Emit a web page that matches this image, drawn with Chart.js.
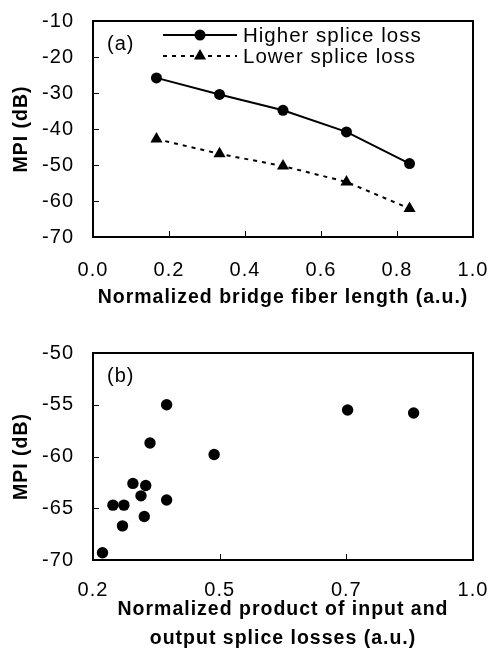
<!DOCTYPE html>
<html>
<head>
<meta charset="utf-8">
<script src="https://cdn.jsdelivr.net/npm/chart.js@4.4.1/dist/chart.umd.min.js"></script>
<style>
html, body { margin: 0; padding: 0; background: #fff; }
#wrap { position: relative; width: 488px; height: 653px; }
canvas { position: absolute; left: 0; }
</style>
</head>
<body>
<div id="wrap">
  <canvas id="chartA" width="488" height="320" style="top:0"></canvas>
  <canvas id="chartB" width="488" height="333" style="top:320px"></canvas>
</div>
<script>
// (a) MPI vs bridge fiber length
const lengthX = [0.167, 0.333, 0.5, 0.667, 0.833];
const higherLoss = [-25.8, -30.4, -34.8, -40.8, -49.6];
const lowerLoss = [-42.8, -46.9, -50.3, -54.7, -62.1];
const lengthTicks = [0, 0.2, 0.4, 0.6, 0.8, 1.0];
const mpiTicksA = [-70, -60, -50, -40, -30, -20, -10];

// (b) MPI vs product of splice losses
const productX = [0.220, 0.242, 0.265, 0.262, 0.284, 0.301, 0.311, 0.308, 0.320, 0.355, 0.355, 0.455, 0.736, 0.875];
const productMPI = [-69.3, -64.7, -64.7, -66.7, -62.6, -63.8, -62.8, -65.8, -58.7, -55.0, -64.2, -59.8, -55.5, -55.8];
const productTicks = [0.2, 0.4667, 0.7333, 1.0];
const mpiTicksB = [-70, -65, -60, -55, -50];

const FONT = '"Liberation Sans", Arial, sans-serif';
const black = '#000';

function pts(xs, ys) {
    return xs.map((x, i) => ({ x: x, y: ys[i] }));
}

// the original text is a bit loosely spaced
const spacingPlugin = {
    id: 'spacing',
    beforeUpdate(chart) { chart.ctx.letterSpacing = '1px'; },
    beforeDraw(chart) { chart.ctx.letterSpacing = '1px'; }
};

// box around plot area plus short inward tick marks
const framePlugin = {
    id: 'frame',
    afterDraw(chart) {
        const ctx = chart.ctx;
        const a = chart.chartArea;
        const xs = chart.scales.x, ys = chart.scales.y;
        ctx.save();
        ctx.strokeStyle = black;
        ctx.lineWidth = 1;
        xs.ticks.forEach((t, i) => {
            if (i === 0 || i === xs.ticks.length - 1) return;
            const px = Math.round(xs.getPixelForValue(t.value)) + 0.5;
            ctx.beginPath();
            ctx.moveTo(px, a.bottom);
            ctx.lineTo(px, a.bottom - 6);
            ctx.stroke();
        });
        ys.ticks.forEach((t, i) => {
            if (i === 0 || i === ys.ticks.length - 1) return;
            const py = Math.round(ys.getPixelForValue(t.value)) + 0.5;
            ctx.beginPath();
            ctx.moveTo(a.left, py);
            ctx.lineTo(a.left + 6, py);
            ctx.stroke();
        });
        ctx.lineWidth = 2;
        ctx.strokeRect(a.left, a.top, a.right - a.left, a.bottom - a.top);
        ctx.restore();
    }
};

function panelLabel(text) {
    return {
        id: 'panel' + text,
        afterDraw(chart) {
            const ctx = chart.ctx;
            const a = chart.chartArea;
            ctx.save();
            ctx.fillStyle = black;
            ctx.font = '20px ' + FONT;
            ctx.textBaseline = 'middle';
            ctx.fillText(text, a.left + 14, a.top + 23);
            ctx.restore();
        }
    };
}

// legend with line sample and marker, drawn inside the plot
const legendPlugin = {
    id: 'lineLegend',
    afterDraw(chart) {
        const ctx = chart.ctx;
        const x0 = 163, x1 = 237, rows = [35, 56];
        ctx.save();
        chart.data.datasets.forEach((ds, i) => {
            const y = rows[i];
            ctx.strokeStyle = black;
            ctx.lineWidth = 2;
            ctx.setLineDash(ds.borderDash || []);
            ctx.beginPath();
            ctx.moveTo(x0, y);
            ctx.lineTo(x1, y);
            ctx.stroke();
            ctx.setLineDash([]);
            const cx = (x0 + x1) / 2, r = ds.pointRadius;
            ctx.fillStyle = black;
            ctx.beginPath();
            if (ds.pointStyle === 'triangle') {
                ctx.moveTo(cx, y - r);
                ctx.lineTo(cx + r * 0.866, y + r * 0.5);
                ctx.lineTo(cx - r * 0.866, y + r * 0.5);
                ctx.closePath();
            } else {
                ctx.arc(cx, y, r, 0, Math.PI * 2);
            }
            ctx.fill();
            ctx.font = '20.5px ' + FONT;
            ctx.textBaseline = 'middle';
            ctx.fillText(ds.label, x1 + 6, y + 1);
        });
        ctx.restore();
    }
};

function fixedTicks(arr) {
    return function (scale) {
        scale.ticks = arr.map(v => ({ value: v }));
    };
}

// fixed axis size, and drop the label overhang padding Chart.js adds
function fixSize(prop, size) {
    return function (s) {
        s[prop] = size;
        s.paddingTop = s.paddingBottom = s.paddingLeft = s.paddingRight = 0;
    };
}

const tickFont = { family: FONT, size: 20 };
const titleFont = { family: FONT, size: 19.5, weight: 'bold' };

new Chart(document.getElementById('chartA'), {
    type: 'line',
    data: {
        datasets: [{
            label: 'Higher splice loss',
            data: pts(lengthX, higherLoss),
            borderColor: black,
            borderWidth: 2,
            pointStyle: 'circle',
            pointRadius: 5.5,
            pointBackgroundColor: black,
            pointBorderWidth: 0,
            tension: 0
        }, {
            label: 'Lower splice loss',
            data: pts(lengthX, lowerLoss),
            borderColor: black,
            borderWidth: 2,
            borderDash: [4, 5],
            pointStyle: 'triangle',
            pointRadius: 7,
            pointBackgroundColor: black,
            pointBorderWidth: 0,
            tension: 0
        }]
    },
    plugins: [spacingPlugin, framePlugin, legendPlugin, panelLabel('(a)')],
    options: {
        responsive: false,
        animation: false,
        layout: { autoPadding: false, padding: { top: 21, right: 15, left: 0, bottom: 0 } },
        plugins: { legend: { display: false }, tooltip: { enabled: false } },
        scales: {
            x: {
                type: 'linear', min: 0, max: 1,
                afterBuildTicks: fixedTicks(lengthTicks),
                afterFit: fixSize('height', 83),
                grid: { display: false, drawTicks: false },
                border: { display: false },
                ticks: { color: black, font: tickFont, padding: 21, maxRotation: 0,
                    callback: v => v.toFixed(1) },
                title: { display: true, text: 'Normalized bridge fiber length (a.u.)',
                    color: black, font: titleFont, padding: { top: 0, bottom: 11 } }
            },
            y: {
                min: -70, max: -10,
                afterBuildTicks: fixedTicks(mpiTicksA),
                afterFit: fixSize('width', 93),
                grid: { display: false, drawTicks: false },
                border: { display: false },
                ticks: { color: black, font: tickFont, padding: 19 },
                title: { display: true, text: 'MPI (dB)', color: black, font: titleFont,
                    padding: { top: 10, bottom: 0 } }
            }
        }
    }
});

new Chart(document.getElementById('chartB'), {
    type: 'scatter',
    data: {
        datasets: [{
            label: 'MPI',
            data: pts(productX, productMPI),
            pointStyle: 'circle',
            pointRadius: 5.7,
            pointBackgroundColor: black,
            pointBorderWidth: 0
        }]
    },
    plugins: [spacingPlugin, framePlugin, panelLabel('(b)')],
    options: {
        responsive: false,
        animation: false,
        layout: { autoPadding: false, padding: { top: 33, right: 15, left: 0, bottom: 0 } },
        plugins: { legend: { display: false }, tooltip: { enabled: false } },
        scales: {
            x: {
                type: 'linear', min: 0.2, max: 1.0,
                afterBuildTicks: fixedTicks(productTicks),
                afterFit: fixSize('height', 93),
                grid: { display: false, drawTicks: false },
                border: { display: false },
                ticks: { color: black, font: tickFont, padding: 18, maxRotation: 0,
                    callback: v => v.toFixed(1) },
                title: { display: true,
                    text: ['Normalized product of input and', 'output splice losses (a.u.)'],
                    color: black, font: { family: FONT, size: 19.5, weight: 'bold', lineHeight: 1.49 },
                    padding: { top: 0, bottom: 0 } }
            },
            y: {
                min: -70, max: -50,
                afterBuildTicks: fixedTicks(mpiTicksB),
                afterFit: fixSize('width', 93),
                grid: { display: false, drawTicks: false },
                border: { display: false },
                ticks: { color: black, font: tickFont, padding: 19 },
                title: { display: true, text: 'MPI (dB)', color: black, font: titleFont,
                    padding: { top: 10, bottom: 0 } }
            }
        }
    }
});
</script>
</body>
</html>
